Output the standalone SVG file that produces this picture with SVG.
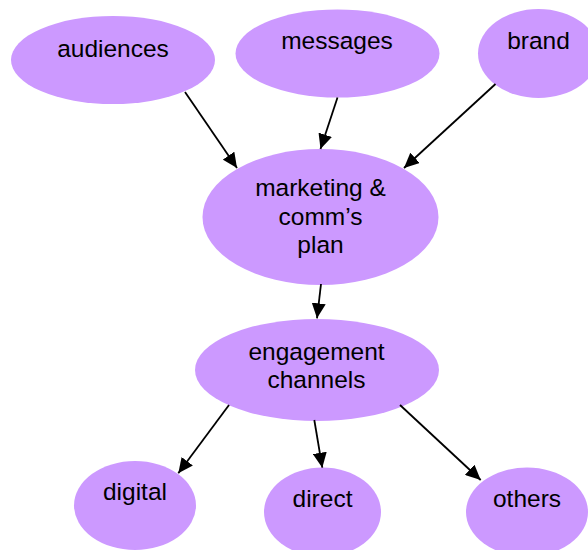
<svg xmlns="http://www.w3.org/2000/svg" width="588" height="550" viewBox="0 0 588 550">
  <style>
    .node ellipse { fill: #CC99FF; stroke: none; }
    .node text { font-family: "Liberation Sans", Arial, sans-serif; font-size: 24.5px; fill: #000; text-anchor: middle; }
    .edges line { stroke: #000; stroke-width: 1.8; marker-end: url(#arrow); }
  </style>
  <defs>
    <marker id="arrow" markerUnits="userSpaceOnUse" markerWidth="16" markerHeight="14" refX="15" refY="7" orient="auto">
      <path d="M0,0 L15,7 L0,14 z" fill="#000"/>
    </marker>
  </defs>
  <rect width="588" height="550" fill="#fff"/>

  <g id="audiences" class="node">
    <ellipse cx="113" cy="60" rx="102" ry="44"/>
    <text x="113" y="57">audiences</text>
  </g>
  <g id="messages" class="node">
    <ellipse cx="337.5" cy="53.5" rx="102" ry="44"/>
    <text x="337" y="49">messages</text>
  </g>
  <g id="brand" class="node">
    <ellipse cx="538.5" cy="53.5" rx="60.5" ry="44.5"/>
    <text x="538.5" y="49">brand</text>
  </g>
  <g id="plan" class="node">
    <ellipse cx="320.5" cy="217" rx="118" ry="68"/>
    <text x="320.5" y="196">marketing &amp;</text>
    <text x="320.5" y="224.5">comm’s</text>
    <text x="320.5" y="253">plan</text>
  </g>
  <g id="channels" class="node">
    <ellipse cx="317" cy="370" rx="122" ry="51"/>
    <text x="316.5" y="360">engagement</text>
    <text x="316.5" y="388">channels</text>
  </g>
  <g id="digital" class="node">
    <ellipse cx="135" cy="505.5" rx="61" ry="44.5"/>
    <text x="135" y="500">digital</text>
  </g>
  <g id="direct" class="node">
    <ellipse cx="322.5" cy="512" rx="58.5" ry="44.5"/>
    <text x="322.5" y="506.5">direct</text>
  </g>
  <g id="others" class="node">
    <ellipse cx="527" cy="512" rx="61" ry="44.5"/>
    <text x="527" y="506.5">others</text>
  </g>

  <g id="connectors" class="edges">
    <line x1="185" y1="92" x2="237" y2="168"/>
    <line x1="337.5" y1="97.5" x2="320.5" y2="149"/>
    <line x1="495.5" y1="84" x2="404" y2="168"/>
    <line x1="321" y1="284" x2="317" y2="318.3"/>
    <line x1="229" y1="405" x2="178.3" y2="473.3"/>
    <line x1="314.3" y1="420" x2="322.3" y2="467.7"/>
    <line x1="400" y1="405" x2="480.7" y2="480"/>
  </g>
</svg>
